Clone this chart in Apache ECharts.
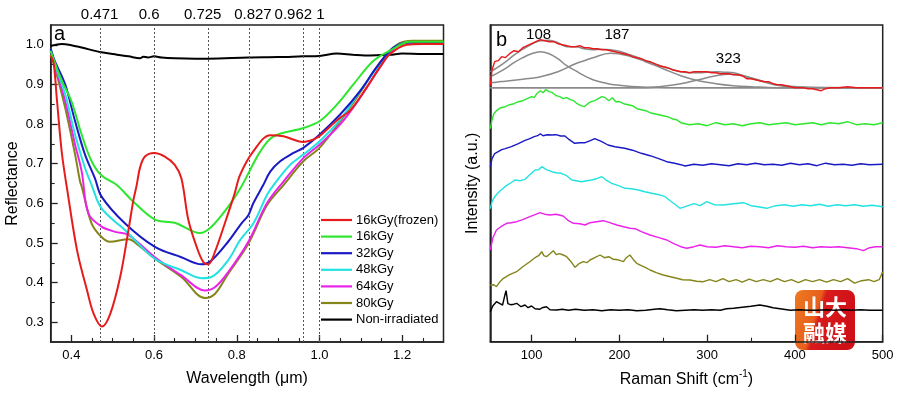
<!DOCTYPE html>
<html>
<head>
<meta charset="utf-8">
<script src="https://cdn.jsdelivr.net/npm/echarts@6.0.0/dist/echarts.min.js"></script>
<style>
html,body{margin:0;padding:0;background:#fff;}
#chart{width:900px;height:396px;}
</style>
</head>
<body>
<div id="chart"></div>
<script>
// ---------- Panel a: reflectance ----------
const wavelengthTicks = [0.4, 0.6, 0.8, 1.0, 1.2];
const wavelengthMinorTicks = [0.45, 0.5, 0.55, 0.65, 0.7, 0.75, 0.85, 0.9, 0.95, 1.05, 1.1, 1.15, 1.25];
const reflectanceTicks = [0.3, 0.4, 0.5, 0.6, 0.7, 0.8, 0.9, 1.0];
const reflectanceMinorTicks = [0.35, 0.45, 0.55, 0.65, 0.75, 0.85, 0.95];
const markerLinePositions = [0.473, 0.6, 0.732, 0.827, 0.961, 1.0];
const markerLabels = ['0.471', '0.6', '0.725', '0.827', '0.962', '1'];

const seriesNames = ['16kGy(frozen)', '16kGy', '32kGy', '48kGy', '64kGy', '80kGy', 'Non-irradiated'];

const refl16Frozen = [[0.35,0.972],[0.357,0.955],[0.365,0.862],[0.377,0.727],[0.39,0.634],[0.414,0.48],[0.438,0.38],[0.454,0.321],[0.474,0.289],[0.494,0.321],[0.518,0.414],[0.538,0.532],[0.55,0.608],[0.558,0.646],[0.566,0.69],[0.578,0.718],[0.6,0.727],[0.626,0.718],[0.65,0.697],[0.666,0.663],[0.683,0.558],[0.703,0.49],[0.719,0.452],[0.731,0.446],[0.747,0.477],[0.771,0.549],[0.795,0.625],[0.808,0.672],[0.84,0.731],[0.881,0.772],[0.913,0.769],[0.961,0.755],[0.993,0.765],[1.026,0.794],[1.05,0.816],[1.074,0.834],[1.114,0.892],[1.146,0.943],[1.17,0.976],[1.211,1.0],[1.25,1.002],[1.3,1.002]];
const refl16 = [[0.35,0.985],[0.36,0.955],[0.377,0.909],[0.40,0.858],[0.425,0.773],[0.449,0.706],[0.473,0.67],[0.51,0.646],[0.546,0.608],[0.602,0.559],[0.65,0.551],[0.711,0.525],[0.739,0.541],[0.779,0.591],[0.811,0.642],[0.857,0.731],[0.889,0.769],[0.961,0.79],[1.0,0.807],[1.042,0.849],[1.082,0.90],[1.13,0.959],[1.17,0.985],[1.219,1.008],[1.3,1.008]];
const refl32 = [[0.35,0.99],[0.36,0.959],[0.385,0.90],[0.409,0.807],[0.433,0.723],[0.457,0.663],[0.473,0.617],[0.53,0.549],[0.602,0.49],[0.666,0.464],[0.715,0.446],[0.739,0.456],[0.779,0.503],[0.811,0.549],[0.828,0.57],[0.84,0.60],[0.864,0.646],[0.881,0.68],[0.905,0.706],[0.937,0.727],[0.961,0.74],[1.0,0.773],[1.05,0.824],[1.098,0.883],[1.138,0.943],[1.179,0.993],[1.219,1.006],[1.3,1.005]];
const refl48 = [[0.35,0.99],[0.36,0.951],[0.385,0.875],[0.409,0.773],[0.433,0.689],[0.449,0.646],[0.473,0.587],[0.53,0.532],[0.602,0.46],[0.666,0.431],[0.715,0.411],[0.739,0.414],[0.779,0.456],[0.808,0.507],[0.84,0.549],[0.873,0.621],[0.889,0.646],[0.929,0.697],[0.961,0.723],[1.0,0.756],[1.05,0.811],[1.098,0.883],[1.146,0.951],[1.179,0.993],[1.219,1.006],[1.3,1.006]];
const refl64 = [[0.35,0.985],[0.36,0.947],[0.385,0.858],[0.409,0.748],[0.425,0.68],[0.441,0.575],[0.473,0.541],[0.506,0.528],[0.538,0.52],[0.602,0.464],[0.666,0.418],[0.723,0.38],[0.747,0.388],[0.779,0.426],[0.828,0.503],[0.873,0.6],[0.913,0.655],[0.961,0.714],[1.0,0.748],[1.05,0.799],[1.098,0.866],[1.146,0.943],[1.187,0.997],[1.226,1.006],[1.3,1.006]];
const refl80 = [[0.35,0.975],[0.36,0.943],[0.385,0.841],[0.409,0.723],[0.421,0.655],[0.425,0.642],[0.449,0.549],[0.473,0.515],[0.493,0.503],[0.538,0.509],[0.562,0.494],[0.602,0.46],[0.666,0.414],[0.723,0.361],[0.747,0.371],[0.779,0.422],[0.828,0.498],[0.873,0.595],[0.913,0.646],[0.961,0.706],[1.0,0.74],[1.05,0.807],[1.098,0.879],[1.146,0.955],[1.187,1.0],[1.226,1.01],[1.3,1.01]];
const reflNonIrr = [[0.35,0.997],[0.377,1.002],[0.40,0.999],[0.425,0.993],[0.473,0.981],[0.51,0.975],[0.538,0.971],[0.566,0.966],[0.574,0.97],[0.585,0.968],[0.6,0.971],[0.618,0.968],[0.65,0.966],[0.7,0.965],[0.731,0.965],[0.828,0.968],[0.9,0.969],[0.96,0.971],[1.0,0.972],[1.042,0.978],[1.08,0.975],[1.11,0.973],[1.17,0.975],[1.2,0.978],[1.25,0.977],[1.3,0.977]];

// ---------- Panel b: Raman ----------
const ramanTicks = [100, 200, 300, 400, 500];
const ramanMinorTicks = [150, 250, 350, 450];
const peakPositions = [108, 187, 323];
const peakLabelHeights = [306.7, 306.7, 282.7];

const ramanFrozen = [[53,256],[55,272],[58,280],[62,281],[66,285],[70,284],[75,288],[80,291],[85,290],[90,294],[95,296],[100,298],[105,300],[110,302],[115,301],[120,300],[125,300],[130,298],[135,297],[140,296],[145,295],[150,295],[155,296],[160,294],[165,294],[170,293],[175,293],[180,292],[185,292],[190,291],[195,290],[200,289],[205,288],[210,287],[215,285],[220,284],[225,283],[230,281],[235,280],[240,278],[245,276],[250,275],[255,274],[260,272],[265,271],[270,270],[275,270],[280,269],[285,270],[290,270],[295,270],[300,270],[305,269],[310,269],[315,268],[320,268],[325,268],[330,267],[335,267],[340,266],[345,263],[350,263],[355,262],[360,261],[365,260],[370,260],[375,258],[380,257],[385,257],[390,256],[395,255],[400,254],[405,254],[410,254],[415,253],[420,253],[425,252],[430,251],[435,253],[440,254],[450,254],[460,255],[470,254],[480,254],[490,254],[500,254]];
const fitBaseline = [[53,254],[500,254]];
const fitPeak108 = [[53,265],[60,268],[70,273],[80,279],[90,284],[100,288],[110,290],[120,288],[130,283],[140,276],[150,271],[160,266],[170,262],[180,259.5],[190,257.5],[200,256.5],[220,255],[250,254.3],[300,254],[500,254]];
const fitPeak187 = [[53,259],[60,259.5],[70,260.5],[80,261.5],[90,262.5],[100,263.5],[110,265],[130,270],[150,278],[160,281],[170,284],[190,288.5],[210,286],[230,280],[250,273],[270,266],[290,261],[310,258],[330,256],[350,255],[380,254],[500,254]];
const fitPeak323 = [[53,254],[230,254],[250,255.5],[270,258],[290,262],[310,266],[325,267.5],[340,266],[350,263.5],[360,261],[370,258.5],[380,256.5],[395,255],[420,254],[500,254]];
const fitEnvelope = [[53,270],[60,273.5],[70,279.5],[80,286.5],[90,292.5],[100,297.5],[110,301],[120,301.5],[130,299],[140,295],[150,295],[160,293],[170,292],[180,292.5],[190,292],[200,290.5],[210,287.5],[220,284.5],[230,281],[240,278],[250,275],[260,272.5],[270,270],[280,269],[290,269],[300,269.5],[310,270],[320,269.5],[330,269],[340,266.5],[350,264],[360,261.5],[370,259],[380,257],[395,255.5],[420,254.5],[500,254]];
const raman16 = [[53,213],[55,222],[57,228],[60,231],[65,234],[70,235],[75,237],[80,238],[85,240],[90,241],[95,243],[100,245],[103,244],[106,248],[110,251],[113,249],[116,252],[120,250],[124,249],[128,246],[132,245],[136,243],[140,244],[144,242],[148,241],[152,238],[156,236],[160,235],[164,238],[168,240],[172,241],[176,243],[180,245],[184,244],[188,241],[192,244],[196,240],[200,240],[205,238],[210,237],[215,236],[220,233],[225,232],[230,231],[235,229],[240,228],[245,227],[250,226],[255,225],[260,223],[265,222],[270,219],[275,218],[280,217],[290,218],[300,216],[310,219],[320,217],[330,218],[340,216],[350,218],[360,219],[370,217],[380,218],[390,219],[400,217],[410,218],[420,219],[430,217],[440,219],[450,218],[460,220],[470,217],[480,218],[490,217],[500,219]];
const raman32 = [[53,175],[55,183],[58,188],[62,190],[66,192],[70,193],[77,195],[85,198],[92,201],[98,203],[103,205],[107,206],[110,208],[113,206],[118,207],[123,206.7],[128,207],[133,205.7],[138,205.7],[143,202],[149,198.4],[155,199],[161,199],[167,201],[172,203],[174,203.4],[180,200],[187,196.7],[195,195],[206,193.4],[215,191.5],[225,188.4],[235,186],[244,183.4],[254,180],[263,178.4],[270,177],[275,175.7],[285,177.5],[295,176.5],[305,178],[315,177],[325,176],[335,178],[345,177],[355,178.5],[365,177],[375,177.5],[385,176.5],[395,178.5],[405,177],[415,178],[425,176],[435,178.5],[445,177],[455,177.5],[465,176.5],[475,178],[485,177],[500,177.5]];
const raman48 = [[53,133],[55,140],[58,145],[63,150],[69.7,155],[75,158],[81,161.7],[87,161],[92.5,162.4],[98,167],[104,171.7],[108,172],[111.6,175],[117,172],[123,170],[128,169],[134,168.4],[140,166],[145.8,161.7],[151,161],[157,160],[163,161],[168.6,161.7],[174,163],[180,165],[186,161],[191.3,158.4],[199,156],[206.5,153.4],[214,153],[221.7,151.7],[229,150],[237,148.4],[245,147],[252,145],[258,141],[264,137],[269,133.4],[275,135],[285,138],[292,136],[299.6,140],[308,137],[318.5,136.7],[330,138],[341.3,139],[350,136],[358,135],[368,133.4],[378,136],[388,137],[398,135.5],[408,137],[418,136],[428,137.5],[438,135.5],[448,137],[458,136],[468,137],[478,135.5],[488,136.5],[500,135]];
const raman64 = [[53,91.7],[56,104],[60,111.7],[65,115],[71.7,118.4],[77,119],[83,120],[90,122],[98,125],[104,127],[109.6,129],[115,127.5],[121,126.7],[128,127.5],[136,125.7],[142,121],[147.6,118.4],[155,118],[161,116.7],[166.6,119],[174,120],[181.8,121],[189,119],[197,116.7],[205,115],[212,113.4],[218,113],[225,110],[235,106.7],[245,104],[254,101.7],[262,98],[270,95],[276.8,93.4],[285,95],[292,96.7],[300,95],[310,94.5],[320,96],[330,95],[340,94],[350,95.5],[360,95],[370,94],[380,96],[390,95],[400,94.5],[410,95.5],[420,94],[430,95],[440,94.5],[450,95],[460,94],[470,93],[478,91],[485,94],[492,95],[500,95]];
const raman80 = [[53,56.7],[57,57],[60,55],[64,60],[68,63.4],[75,67],[83,70],[90,75],[98,80],[104,84],[108,86],[111.6,90],[114,86],[117,85],[121,88],[124.8,91],[128,87],[132,88],[136,86.7],[140,85],[145,80],[149.5,74.4],[154,78],[159,80],[163,79],[166.6,81.7],[172,84],[178,86.7],[183,84],[188,85],[193,82.4],[198,82],[204.6,80],[208,84],[212,86.7],[216,82],[219.8,78.4],[225,76],[230,74],[235,71.7],[242,69],[250,66.7],[258,65],[265.4,63.4],[272,62],[280.6,61.7],[288,60.5],[295.7,60],[303,62],[310,60],[318,63],[325,60],[333,62],[340,59.5],[348,62.5],[356,60],[364,62],[372,60],[380,63],[388,60],[396,62],[404,59],[412,62],[420,60],[428,62],[436,59.5],[444,62],[452,60],[460,63],[468,58.5],[476,61],[484,62],[490,60],[496,62],[500,70]];
const ramanNonIrr = [[53,30],[56,36],[60,40],[64,38],[67,36.7],[70,48],[71,51],[73,38],[76,37],[80,37.5],[83,38.4],[88,35],[92.5,36.7],[96,34],[100,35.7],[104,33],[109.6,32.4],[112,34],[117,35],[121,32],[128.7,31.7],[135,32.5],[142,31.5],[150,32.5],[160,31.5],[170,32],[180,31],[190,32],[200,31.5],[210,32],[220,31],[230,31.5],[240,32.5],[246.5,33],[255,32],[265,31],[275,31.5],[285,32],[295,31.5],[305,32],[315,31.5],[322,33],[330,33.5],[340,34.5],[350,35.5],[360,36.7],[368,35.5],[375,34],[387,32.5],[395,31.5],[405,32],[415,31.5],[425,31.5],[435,32],[445,31.5],[455,32],[465,31.5],[475,32],[485,31.5],[500,31.5]];

// ---------- styles ----------
const colors = ['#e61c1c', '#2ee62e', '#1a1ac4', '#22e2e2', '#ea22ea', '#84841a', '#000000'];
const fitColor = '#8a8a8a';
const axisColor = '#222';
const textColor = '#000';
const FONT = 'Liberation Sans, Arial, sans-serif';
const peakLabelOffsets = [[0, 0], [9, 0], [1, 0]];
const markerLabelOffsets = [[-2, 0], [-5, 0], [-6, 0], [5, 0], [-10, 0], [1, 0]];

const chart = echarts.init(document.getElementById('chart'), null, {renderer: 'canvas'});

const reflData = [refl16Frozen, refl16, refl32, refl48, refl64, refl80, reflNonIrr];
const ramanData = [ramanFrozen, raman16, raman32, raman48, raman64, raman80, ramanNonIrr];

function axisBase(extra) {
  return Object.assign({
    type: 'value',
    splitLine: {show: false},
    axisLine: {show: true, onZero: false, lineStyle: {color: axisColor, width: 1.5}},
  }, extra);
}

const plainLabel = {textBorderWidth: 0, textShadowBlur: 0, opacity: 1};

const series = [];
reflData.forEach((d, i) => {
  series.push({
    name: seriesNames[i], type: 'line', xAxisIndex: 0, yAxisIndex: 0,
    data: d, showSymbol: false, symbol: 'none', smooth: 0.35,
    lineStyle: {color: colors[i], width: 2}, itemStyle: {color: colors[i]},
    z: 3 + (7 - i),
    markLine: i === 6 ? {
      silent: true, symbol: 'none', animation: false,
      label: {show: false},
      lineStyle: {color: '#555', type: [2, 2], width: 1},
      data: markerLinePositions.map(v => ({xAxis: v}))
    } : undefined
  });
});
series.push({
  name: 'markerLabels', type: 'scatter', xAxisIndex: 0, yAxisIndex: 0,
  symbolSize: 0, clip: false, silent: true, itemStyle: {color: '#000'},
  data: markerLinePositions.map((v, i) => ({
    value: [v, 1.05],
    label: {offset: markerLabelOffsets[i]}
  })),
  label: Object.assign({show: true, position: 'top', distance: 3, fontSize: 15, color: textColor, fontFamily: FONT,
    formatter: p => markerLabels[p.dataIndex]}, plainLabel)
});

// Raman fits
[fitBaseline, fitPeak108, fitPeak187, fitPeak323, fitEnvelope].forEach((d, i) => {
  series.push({
    name: 'fit' + i, type: 'line', xAxisIndex: 2, yAxisIndex: 2, data: d,
    symbol: 'none', smooth: i === 0 ? false : 0.4,
    lineStyle: {color: fitColor, width: 1.5}, z: 2
  });
});
ramanData.forEach((d, i) => {
  series.push({
    name: 'raman ' + seriesNames[i], type: 'line', xAxisIndex: 2, yAxisIndex: 2,
    data: d, symbol: 'none', smooth: false,
    lineStyle: {color: colors[i], width: 1.4}, z: 3
  });
});
series.push({
  name: 'peakLabels', type: 'scatter', xAxisIndex: 2, yAxisIndex: 2,
  symbolSize: 0, clip: false, silent: true, itemStyle: {color: '#000'},
  data: peakPositions.map((p, i) => ({value: [p, peakLabelHeights[i]], label: {offset: peakLabelOffsets[i]}})),
  label: Object.assign({show: true, position: 'inside', fontSize: 15, color: textColor, fontFamily: FONT,
    formatter: p => String(peakPositions[p.dataIndex])}, plainLabel)
});

const option = {
  animation: false,
  backgroundColor: '#fff',
  textStyle: {fontFamily: FONT},
  grid: [
    {left: 50.7, top: 25, width: 392.8, height: 317, show: true, borderColor: axisColor, borderWidth: 1.5, backgroundColor: 'transparent'},
    {left: 490.3, top: 25, width: 392.4, height: 316.7, show: true, borderColor: axisColor, borderWidth: 1.5, backgroundColor: 'transparent'}
  ],
  legend: {
    data: seriesNames, orient: 'vertical', left: 316, top: 208,
    icon: 'rect', itemWidth: 31, itemHeight: 2.2, itemGap: 2.6,
    textStyle: {fontSize: 13, color: textColor, fontFamily: FONT, lineHeight: 14, padding: [0, 0, 0, -1]},
    selectedMode: false
  },
  xAxis: [
    axisBase({gridIndex: 0, min: 0.35, max: 1.3, position: 'bottom',
      axisTick: {show: true, inside: true, length: 7, customValues: wavelengthTicks, lineStyle: {color: axisColor, width: 1.3}},
      axisLabel: {customValues: wavelengthTicks, formatter: v => v.toFixed(1), fontSize: 13, color: textColor, margin: 7, fontFamily: FONT},
      name: 'Wavelength (μm)', nameLocation: 'middle', nameGap: 29,
      nameTextStyle: {fontSize: 16, color: textColor, fontFamily: FONT}}),
    axisBase({gridIndex: 0, min: 0.35, max: 1.3, position: 'bottom', axisLine: {show: false},
      axisTick: {show: true, inside: true, length: 4, customValues: wavelengthMinorTicks, lineStyle: {color: axisColor, width: 1.1}},
      axisLabel: {show: false}}),
    axisBase({gridIndex: 1, min: 53, max: 500, position: 'bottom',
      axisTick: {show: true, inside: true, length: 7, customValues: ramanTicks, lineStyle: {color: axisColor, width: 1.3}},
      axisLabel: {customValues: ramanTicks, fontSize: 13, color: textColor, margin: 7, fontFamily: FONT},
      name: 'Raman Shift (cm{sup|-1})', nameLocation: 'middle', nameGap: 28,
      nameTextStyle: {fontSize: 16, color: textColor, fontFamily: FONT, lineHeight: 20,
        rich: {sup: {fontSize: 10, color: textColor, fontFamily: FONT, verticalAlign: 'top', lineHeight: 12}}}}),
    axisBase({gridIndex: 1, min: 53, max: 500, position: 'bottom', axisLine: {show: false},
      axisTick: {show: true, inside: true, length: 4, customValues: ramanMinorTicks, lineStyle: {color: axisColor, width: 1.1}},
      axisLabel: {show: false}})
  ],
  yAxis: [
    axisBase({gridIndex: 0, min: 0.25, max: 1.05, position: 'left',
      axisTick: {show: true, inside: true, length: 7, customValues: reflectanceTicks, lineStyle: {color: axisColor, width: 1.3}},
      axisLabel: {customValues: reflectanceTicks, formatter: v => v.toFixed(1), fontSize: 13, color: textColor, margin: 7, fontFamily: FONT},
      name: 'Reflectance', nameLocation: 'middle', nameGap: 30,
      nameTextStyle: {fontSize: 16, color: textColor, fontFamily: FONT}}),
    axisBase({gridIndex: 0, min: 0.25, max: 1.05, position: 'left', axisLine: {show: false},
      axisTick: {show: true, inside: true, length: 4, customValues: reflectanceMinorTicks, lineStyle: {color: axisColor, width: 1.1}},
      axisLabel: {show: false}}),
    axisBase({gridIndex: 1, min: 0, max: 316.7, position: 'left',
      axisTick: {show: false}, axisLabel: {show: false},
      name: 'Intensity (a.u.)', nameLocation: 'middle', nameGap: 10,
      nameTextStyle: {fontSize: 16, color: textColor, fontFamily: FONT}})
  ],
  graphic: [
    {type: 'text', left: 54, top: 24, style: {text: 'a', font: '20px Liberation Sans, Arial, sans-serif', fill: textColor}},
    {type: 'text', left: 496, top: 30, style: {text: 'b', font: '20px Liberation Sans, Arial, sans-serif', fill: textColor}},
    {type: 'group', left: 795, top: 290, z: 100, children: [
      {type: 'rect', shape: {x: 0, y: 0, width: 60, height: 60, r: 8},
        style: {fill: new echarts.graphic.LinearGradient(0, 0, 1, 0.3, [
          {offset: 0, color: '#ec7a22'}, {offset: 0.42, color: '#e8601c'}, {offset: 0.5, color: '#d81b1b'}, {offset: 1, color: '#cf1018'}])}},
      {type: 'text', x: 30, y: 17, style: {text: '山大', font: 'bold 22px "Noto Sans CJK SC"', fill: '#fff', align: 'center', verticalAlign: 'middle'}},
      {type: 'text', x: 30, y: 43, style: {text: '融媒', font: 'bold 22px "Noto Sans CJK SC"', fill: '#fff', align: 'center', verticalAlign: 'middle'}}
    ]}
  ],
  series: series
};
chart.setOption(option);
</script>
</body>
</html>
